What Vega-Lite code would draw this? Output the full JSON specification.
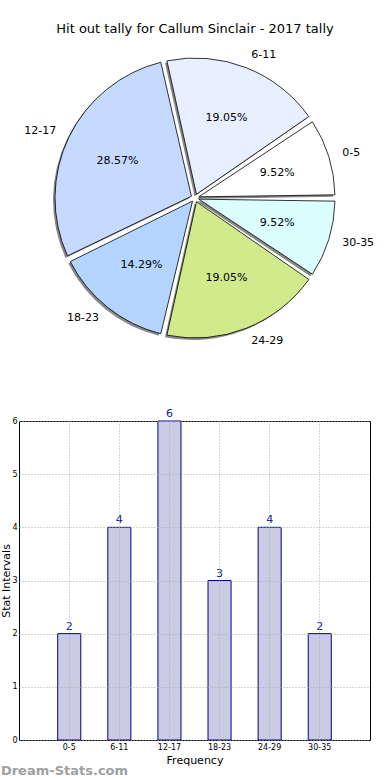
{
  "$schema": "https://vega.github.io/schema/vega-lite/v6.json",
  "padding": 0,
  "background": "white",
  "spacing": 25,
  "bounds": "flush",
  "config": {"font": "DejaVu Sans", "view": {"stroke": null}},
  "datasets": {
    "tally": [
      {"range": "0-5", "count": 2, "pct": "9.52%", "idx": 0},
      {"range": "6-11", "count": 4, "pct": "19.05%", "idx": 1},
      {"range": "12-17", "count": 6, "pct": "28.57%", "idx": 2},
      {"range": "18-23", "count": 3, "pct": "14.29%", "idx": 3},
      {"range": "24-29", "count": 4, "pct": "19.05%", "idx": 4},
      {"range": "30-35", "count": 2, "pct": "9.52%", "idx": 5}
    ]
  },
  "vconcat": [
    {
      "width": 352,
      "height": 396,
      "title": {"text": "Hit out tally for Callum Sinclair - 2017 tally", "orient": "top", "anchor": "middle", "frame": "group", "offset": -36, "fontSize": 13, "fontWeight": "normal", "color": "black"},
      "data": {"name": "tally"},
      "encoding": {
        "theta": {"field": "count", "type": "quantitative", "stack": true, "scale": {"range": [1.5708, -4.7124]}},
        "order": {"field": "idx", "type": "quantitative"}
      },
      "layer": [
        {"mark": {"type": "arc", "innerRadius": 4, "outerRadius": 140, "padAngle": 0.045, "fill": "#888888", "xOffset": -2, "yOffset": 2}},
        {"mark": {"type": "arc", "innerRadius": 4, "outerRadius": 140, "padAngle": 0.045, "stroke": "black", "strokeWidth": 0.8},
         "encoding": {"color": {"field": "range", "type": "nominal", "legend": null,
           "scale": {"domain": ["0-5", "6-11", "12-17", "18-23", "24-29", "30-35"],
                     "range": ["#ffffff", "#e8f0ff", "#c6d9ff", "#b4d5ff", "#d0ea8c", "#dbffff"]}}}},
        {"mark": {"type": "text", "radius": 86, "fontSize": 11, "color": "black"},
         "encoding": {"text": {"field": "pct", "type": "nominal"}}},
        {"mark": {"type": "text", "radius": 154, "fontSize": 11, "color": "black",
                  "align": {"expr": "datum.range === '12-17' || datum.range === '18-23' ? 'right' : 'left'"}},
         "encoding": {"text": {"field": "range", "type": "nominal"}}}
      ]
    },
    {
      "width": 351,
      "height": 319,
      "data": {"name": "tally"},
      "view": {"stroke": "black", "strokeWidth": 1},
      "title": {"text": "Dream-Stats.com", "orient": "bottom", "anchor": "start", "frame": "bounds", "color": "#a0a0a0", "fontSize": 13, "fontWeight": "bold", "offset": 0},
      "encoding": {
        "x": {"field": "range", "type": "nominal", "sort": null,
              "scale": {"paddingInner": 0.54, "paddingOuter": 0.773},
              "axis": {"title": "Frequency", "titleFontSize": 11, "titleFontWeight": "normal", "titlePadding": 3,
                       "labelFontSize": 8, "labelAngle": 0, "labelPadding": 3, "ticks": false, "domain": false,
                       "grid": true, "bandPosition": 0.5, "gridDash": [1, 2], "gridColor": "#aaaaaa", "zindex": 1,
                       "labelColor": "black", "titleColor": "black"}},
        "y": {"field": "count", "type": "quantitative", "scale": {"domain": [0, 6], "nice": false},
              "axis": {"title": "Stat Intervals", "titleFontSize": 11, "titleFontWeight": "normal", "titlePadding": 0,
                       "labelFontSize": 8, "labelPadding": 2, "ticks": false, "domain": false, "values": [0, 1, 2, 3, 4, 5, 6],
                       "grid": true, "gridDash": [1, 2], "gridColor": "#aaaaaa", "zindex": 1,
                       "labelColor": "black", "titleColor": "black"}}
      },
      "layer": [
        {"mark": {"type": "bar", "fill": "#cbcbe4", "stroke": "#00008b", "strokeWidth": 1}},
        {"mark": {"type": "text", "baseline": "bottom", "dy": -2, "fontSize": 11, "color": "#1a1a9a"},
         "encoding": {"text": {"field": "count", "type": "quantitative"}}}
      ]
    }
  ]
}
